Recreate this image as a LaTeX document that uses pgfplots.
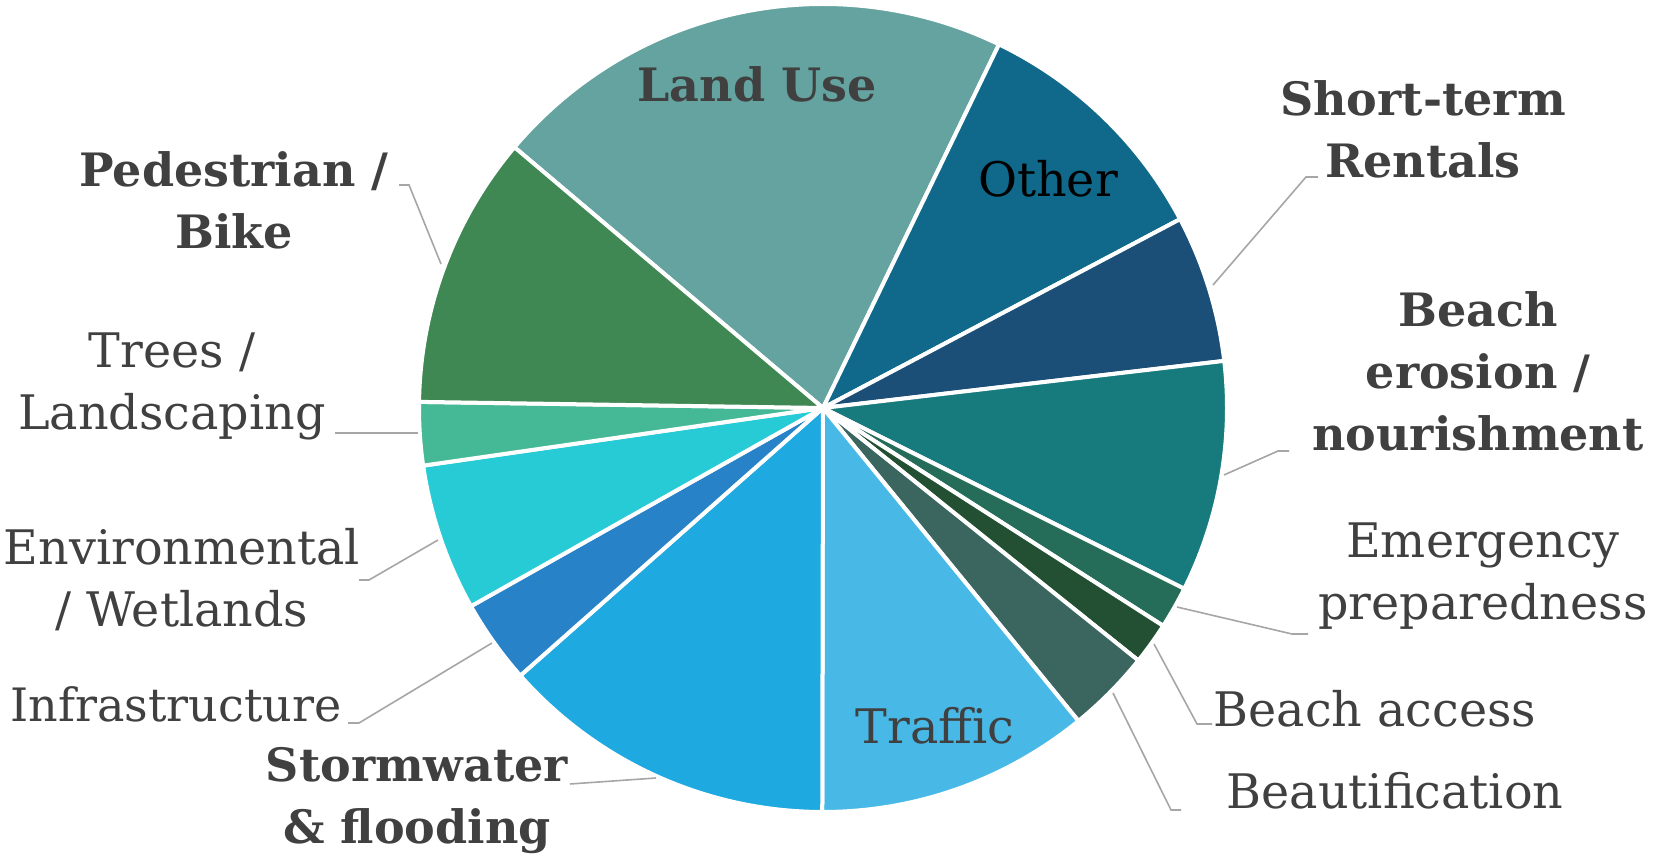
\documentclass[border=0pt]{standalone}
\usepackage{pgfplots}
\pgfplotsset{compat=1.18}
\usepackage{pgfplotstable}
\usepackage{fontspec}
\setmainfont{DejaVu Serif}
\definecolor{cLand}{RGB}{100,163,159}
\definecolor{cOther}{RGB}{16,105,138}
\definecolor{cShort}{RGB}{27,79,120}
\definecolor{cBeach}{RGB}{23,123,126}
\definecolor{cEmerg}{RGB}{37,109,88}
\definecolor{cAccess}{RGB}{35,79,50}
\definecolor{cBeaut}{RGB}{59,102,96}
\definecolor{cTraffic}{RGB}{72,185,230}
\definecolor{cStorm}{RGB}{30,169,225}
\definecolor{cInfra}{RGB}{39,130,199}
\definecolor{cEnv}{RGB}{38,203,214}
\definecolor{cTrees}{RGB}{69,185,149}
\definecolor{cPed}{RGB}{63,135,83}
\definecolor{txt}{RGB}{64,64,64}
\definecolor{lead}{RGB}{166,166,166}

% responses per topic (clockwise, starting with Land Use)
\pgfplotstableread{
value color
25 cLand
12 cOther
7 cShort
11 cBeach
2 cEmerg
2 cAccess
4 cBeaut
13 cTraffic
16 cStorm
4 cInfra
7 cEnv
3 cTrees
13 cPed
}\piedata

\newcommand\regf{\fontsize{23.8}{31}\selectfont}
\newcommand\bldf{\fontsize{23}{31}\selectfont\bfseries}

\begin{document}
\begin{tikzpicture}
\begin{axis}[
  scale only axis, width=827pt, height=428pt,
  xmin=0, xmax=1654, ymin=0, ymax=856,
  hide axis, clip=false,
]
\path (rel axis cs:0,0) coordinate (bl) (rel axis cs:1,1) coordinate (tr);
\pgfplotstablegetrowsof{\piedata}
\pgfmathtruncatemacro\nrows{\pgfplotsretval-1}
\def\total{0}
\pgfplotsforeachungrouped \i in {0,...,\nrows}{%
  \pgfplotstablegetelem{\i}{value}\of\piedata
  \pgfmathsetmacro\total{\total+\pgfplotsretval}%
}
\def\cum{0}
\pgfplotsforeachungrouped \i in {0,...,\nrows}{%
  \pgfplotstablegetelem{\i}{value}\of\piedata \let\v\pgfplotsretval
  \pgfplotstablegetelem{\i}{color}\of\piedata \let\c\pgfplotsretval
  \pgfmathsetmacro\a{-49.8+360*(\cum/\total)}%
  \pgfmathsetmacro\b{-49.8+360*((\cum+\v)/\total)}%
  \edef\tmp{\noexpand\addplot[fill=\c, draw=white, line width=2pt, line join=round,
     domain=\a:\b, samples=80, variable=\noexpand\t]
     ({823+404*sin(\noexpand\t)},{448+404*cos(\noexpand\t)}) -- (axis cs:823,448) -- cycle;}%
  \tmp
  \pgfmathsetmacro\cum{\cum+\v}%
}
% leader lines
\begin{scope}[lead, line width=0.8pt]
\draw (axis cs:1213,571) -- (axis cs:1306,679) -- (axis cs:1318,679);
\draw (axis cs:1224,381) -- (axis cs:1278,405) -- (axis cs:1289,405);
\draw (axis cs:1177,249) -- (axis cs:1292,222) -- (axis cs:1308,222);
\draw (axis cs:1154,212) -- (axis cs:1197,132) -- (axis cs:1212,132);
\draw (axis cs:1113,163) -- (axis cs:1171,46) -- (axis cs:1181,46);
\draw (axis cs:656,78) -- (axis cs:570,72);
\draw (axis cs:492,213) -- (axis cs:359,133) -- (axis cs:348,133);
\draw (axis cs:438,316) -- (axis cs:369,276) -- (axis cs:359,276);
\draw (axis cs:418,423) -- (axis cs:335,423);
\draw (axis cs:441,592) -- (axis cs:409,671) -- (axis cs:399,671);
\end{scope}
% labels
\begin{scope}[every node/.style={align=center, text=txt, font=\regf, inner sep=0pt}]
\node[font=\bldf] at (axis cs:757,772) {Land Use};
\node[text=black] at (axis cs:1048,677) {Other};
\node[font=\bldf] at (axis cs:1423,727) {Short-term\\Rentals};
\node[font=\bldf] at (axis cs:1478,485) {Beach\\erosion /\\nourishment};
\node at (axis cs:1483,280) {Emergency\\preparedness};
\node at (axis cs:1375,147) {Beach access};
\node at (axis cs:1395,65) {Beautification};
\node at (axis cs:935,130) {Traffic};
\node[font=\bldf] at (axis cs:417,55) {Stormwater\\\& flooding};
\node[font=\fontsize{23}{31}\selectfont] at (axis cs:176,152) {Infrastructure};
\node at (axis cs:182,276) {Environmental\\/ Wetlands};
\node at (axis cs:172,470) {Trees /\\Landscaping};
\node[font=\bldf] at (axis cs:234,656) {Pedestrian /\\Bike};
\end{scope}
\end{axis}
\pgfresetboundingbox
\useasboundingbox (bl) rectangle (tr);
\end{tikzpicture}
\end{document}
